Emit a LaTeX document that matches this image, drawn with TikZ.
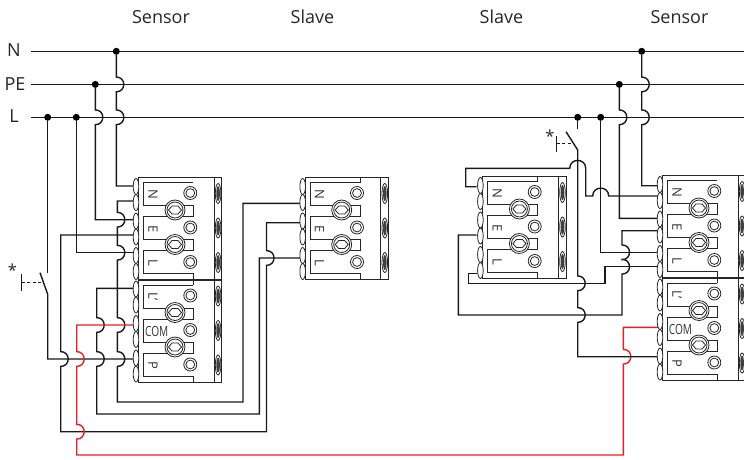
\documentclass[tikz,border=0pt]{standalone}
\usepackage{fontspec}
\setmainfont{Open Sans}
\definecolor{wirered}{RGB}{237,28,36}
\tikzset{
    wire/.style={line width=1.4pt, black!90},
    redwire/.style={line width=1.4pt, wirered},
    frameline/.style={line width=.8pt, black!85},
    dot/.style={circle, fill=black, inner sep=0pt, minimum size=7pt},
    caption/.style={font=\fontsize{18}{20}\selectfont, text=black!85},
    mark letter/.style={font=\fontsize{13}{14}\selectfont, text=black!80, rotate=-90, inner sep=0pt},
    com letter/.style={font=\fontsize{14}{14}\selectfont, text=black!80, inner sep=0pt, xscale=.72},
}
% hops of a wire over another one, at x=#1, y=#2
\newcommand{\hopdown}[2]{-- (#1,#2-7.4) .. controls (#1+10,#2-7.4) and (#1+10,#2+7.4) .. (#1,#2+7.4)}
\newcommand{\hopup}[2]{-- (#1,#2+7.4) .. controls (#1+10,#2+7.4) and (#1+10,#2-7.4) .. (#1,#2-7.4)}
\newcommand{\hopright}[2]{-- (#1-8,#2) .. controls (#1-8,#2-10.5) and (#1+8,#2-10.5) .. (#1+8,#2)}
% terminal group: name, x, y, three letters
\newcommand{\termgroup}[6]{
    \begin{scope}[shift={(#2,#3)}]
        \draw[frameline] (0,0) rectangle (83.4,102);
        \draw[frameline] (75.7,0)--(75.7,102);
        \draw[frameline] (55,5)--(5,5)--(5,28)--(55,28)--(55,39)--(5,39)--(5,62)--(55,62)--(55,73)--(5,73)--(5,96)--(55,96)--(55,102);
        \foreach \k in {0,34.5,69} {
            \draw[frameline, fill=white] (-2.3,\k+9) ellipse [x radius=2.8pt, y radius=8pt];
            \draw[frameline, fill=white] (-2.3,\k+25) ellipse [x radius=2.8pt, y radius=8pt];
            \draw[frameline] (52,\k+15.5) circle (6.5pt);
            \draw[frameline] (52,\k+15.5) circle (4.4pt);
            \draw[frameline] (79.8,\k+16) ellipse [x radius=2.8pt, y radius=10pt];
            \fill[black!75] (79.8,\k+16) ellipse [x radius=1.8pt, y radius=7.5pt];
        }
        \foreach \k in {32.5,67} {
            \draw[frameline, fill=white] (36.7,\k) circle (10pt);
            \draw[frameline] (36.7,\k) circle (8pt);
            \draw[frameline] (36.7-6.5,\k)--(36.7-3,\k-4)--(36.7+3,\k-4)--(36.7+6.5,\k)--(36.7+3,\k+4)--(36.7-3,\k+4)--cycle;
        }
        \node[mark letter] (#1a) at (14.6,16.5) {#4};
        \node[mark letter] (#1b) at (14.6,51.5) {#5};
        \node[mark letter] (#1c) at (14.6,85) {#6};
    \end{scope}
}
\begin{document}
\begin{tikzpicture}[x=1pt, y=-1pt]
    \useasboundingbox (0,0) rectangle (744,459);
    \clip (0,0) rectangle (744,459);

    % captions and bus
    \node[caption] (capa) at (161,17) {Sensor};
    \node[caption] (capb) at (312.5,17) {Slave};
    \node[caption] (capc) at (501.5,16.5) {Slave};
    \node[caption] (capd) at (679.5,17) {Sensor};
    \node[caption] (nameN) at (14,50.5) {N};
    \node[caption] (namePE) at (15,84) {PE};
    \node[caption] (nameL) at (14,116.5) {L};
    \coordinate (busNa) at (31,51.3);
    \coordinate (busNb) at (744,51.3);
    \coordinate (busPa) at (31,84.4);
    \coordinate (busPb) at (744,84.4);
    \coordinate (busLa) at (31,117.3);
    \coordinate (busLb) at (744,117.3);
    \draw[wire] (busNa)--(busNb);
    \draw[wire] (busPa)--(busPb);
    \draw[wire] (busLa)--(busLb);
    \node[dot] (jNa) at (116.3,51.3) {};
    \node[dot] (jPa) at (95.3,84.4) {};
    \node[dot] (jLa) at (47.7,117.3) {};
    \node[dot] (jLb) at (76.3,117.3) {};
    \node[dot] (jNb) at (641.7,51.3) {};
    \node[dot] (jPb) at (619.3,84.4) {};
    \node[dot] (jLc) at (577.7,117.3) {};
    \node[dot] (jLd) at (600.7,117.3) {};

    % terminal ends
    \coordinate (lsA) at (134,186);
    \coordinate (lsB) at (134,201);
    \coordinate (lsC) at (134,219.7);
    \coordinate (lsD) at (134,235);
    \coordinate (lsE) at (134,252.7);
    \coordinate (lsF) at (134,288.3);
    \coordinate (lsCom) at (134,325);
    \coordinate (lsP) at (134,359);
    \coordinate (lvN) at (300,203.3);
    \coordinate (lvE) at (300,222.7);
    \coordinate (lvL) at (300,258);
    \coordinate (rvA) at (476.7,186.7);
    \coordinate (rvB) at (476.7,235);
    \coordinate (rvC) at (476.7,273.3);
    \coordinate (rsA) at (658,185.7);
    \coordinate (rsB) at (658,196);
    \coordinate (rsC) at (658,218.3);
    \coordinate (rsD) at (658,230.7);
    \coordinate (rsE) at (658,252.3);
    \coordinate (rsF) at (658,266.7);
    \coordinate (rsCom) at (658,327.3);
    \coordinate (rsP) at (658,356.7);

    % left sensor and slave
    \draw[wire] (jNa) \hopdown{116.3}{84.4} \hopdown{116.3}{117.3} |- (lsA);
    \draw[wire] (jPa) \hopdown{95.3}{117.3} |- (lsC);
    \draw[wire] (jLb) |- (lsE);
    \draw[wire] (lsB) -- (117.3,201) \hopdown{117.3}{219.7} \hopdown{117.3}{252.7} \hopdown{117.3}{325} \hopdown{117.3}{359} -- (117.3,402) -- (243,402) |- (lvN);
    \draw[wire] (lsF) -- (96.7,288.3) \hopdown{96.7}{325} \hopdown{96.7}{359} -- (96.7,414) -- (259.3,414) |- (lvL);
    \draw[wire] (lsD) -- (60.7,235) \hopdown{60.7}{359} -- (60.7,431.7) -- (266.5,431.7) \hopup{266.5}{258} |- (lvE);
    \coordinate (swa) at (47.7,272.7);
    \coordinate (swb) at (47.7,294.3);
    \coordinate (swc) at (40,272.7);
    \coordinate (barla) at (21.7,274);
    \coordinate (barlb) at (21.7,290.7);
    \coordinate (dashla) at (21.7,282.7);
    \coordinate (dashlb) at (43.5,282.7);
    \draw[wire] (jLa) -- (swa);
    \draw[wire] (swc) -- (swb) |- (lsP);
    \draw[wire] (barla) -- (barlb);
    \draw[wire, dashed, dash pattern=on 3pt off 2.5pt] (dashla) -- (dashlb);
    \node[font=\fontsize{16.5}{18}\selectfont, text=black!85] (starl) at (12.5,270.5) {*};
    \draw[redwire] (lsCom) -- (76.7,325) \hopdown{76.7}{359} \hopdown{76.7}{431.7} -- (76.7,455) -- (623.3,455) \hopup{623.3}{356.7} |- (rsCom);

    % right sensor and slave
    \draw[wire] (jNb) \hopdown{641.7}{84.4} \hopdown{641.7}{117.3} |- (rsA);
    \draw[wire] (jPb) \hopdown{619.3}{117.3} |- (rsC);
    \draw[wire] (jLd) |- (rsE);
    \coordinate (swd) at (577.7,129.3);
    \coordinate (swe) at (577.7,150);
    \coordinate (swf) at (566,131.7);
    \coordinate (barra) at (556.7,136);
    \coordinate (barrb) at (556.7,151.7);
    \coordinate (dashra) at (556.7,143.3);
    \coordinate (dashrb) at (573,143.3);
    \draw[wire] (jLc) -- (swd);
    \draw[wire] (swf) -- (swe) \hopdown{577.7}{283.3} \hopdown{577.7}{315} |- (rsP);
    \draw[wire] (barra) -- (barrb);
    \draw[wire, dashed, dash pattern=on 3pt off 2.5pt] (dashra) -- (dashrb);
    \node[font=\fontsize{16.5}{18}\selectfont, text=black!85] (starr) at (550,136.5) {*};
    \draw[wire] (rvA) -- (465.7,186.7) -- (465.7,168.3) \hopright{577.7}{168.3} -- (585.7,196) \hopright{600.7}{196} -- (rsB);
    \draw[wire] (rvB) -- (458.3,235) -- (458.3,315) -- (622,315) \hopup{622}{266.7} \hopup{622}{252.3} |- (rsD);
    \draw[wire] (rvC) -- (468.3,273.3) -- (468.3,283.3) -- (605,283.3) |- (rsF);

    % terminal blocks
    \termgroup{sa}{138.3}{177.5}{N}{E}{L}
    \termgroup{sb}{138.3}{280}{L'}{}{P}
    \termgroup{va}{305}{177.5}{N}{E}{L}
    \termgroup{vb}{482.7}{176.5}{N}{E}{L}
    \termgroup{sc}{662.3}{175.5}{N}{E}{L}
    \termgroup{sd}{662.3}{278}{L'}{}{P}
    \node[com letter] (coma) at (156.7,331) {COM};
    \node[com letter] (comb) at (680.5,329) {COM};
    \draw[frameline] (193.3,280)--(193.3,285);
    \draw[frameline] (360,177.5)--(360,182.5);
    \draw[frameline] (537.7,176.5)--(537.7,181.5);
    \draw[frameline] (717.3,278)--(717.3,283);
\end{tikzpicture}
\end{document}
